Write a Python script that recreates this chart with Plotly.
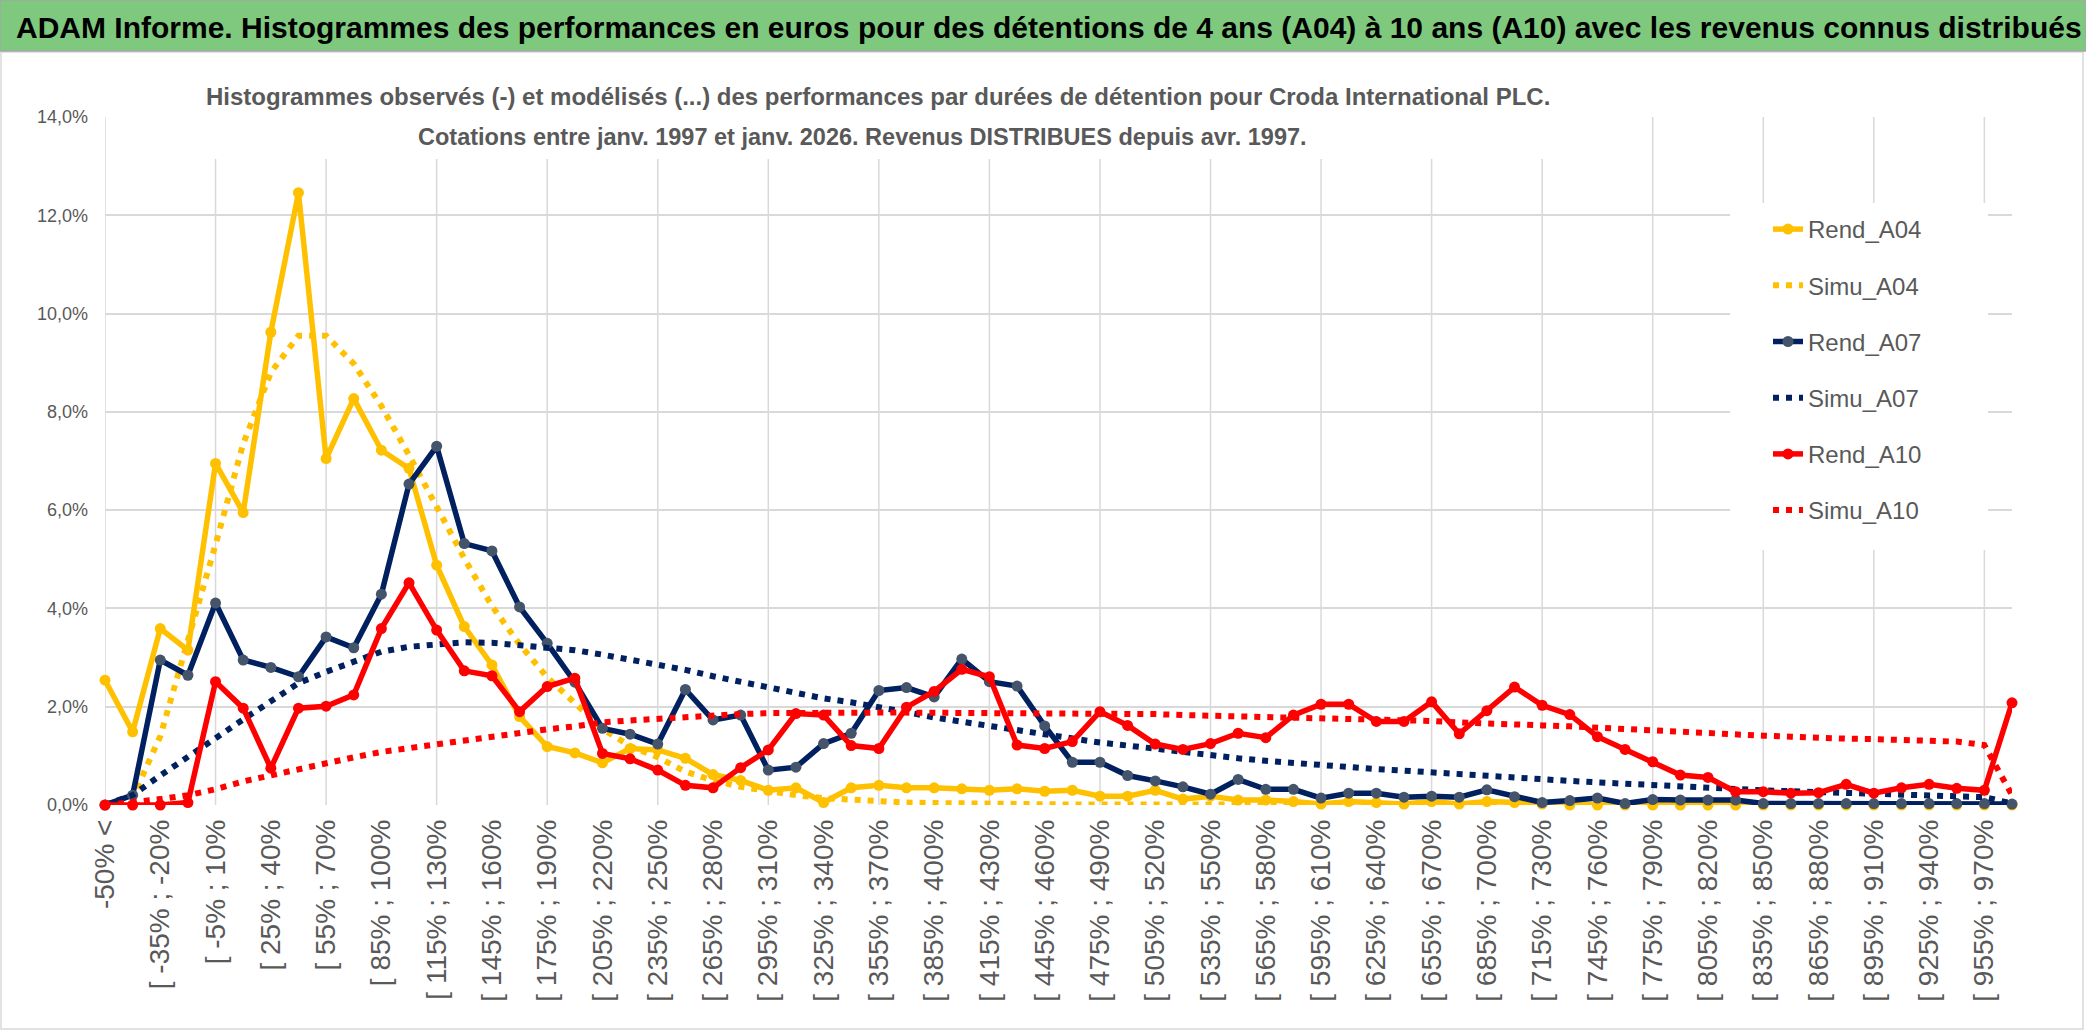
import plotly.graph_objects as go

# ---------------- data ----------------
categories = [
    "-50% <", "[ -50% ; -35%", "[ -35% ; -20%", "[ -20% ; -5%", "[ -5% ; 10%", "[ 10% ; 25%",
    "[ 25% ; 40%", "[ 40% ; 55%", "[ 55% ; 70%", "[ 70% ; 85%", "[ 85% ; 100%", "[ 100% ; 115%",
    "[ 115% ; 130%", "[ 130% ; 145%", "[ 145% ; 160%", "[ 160% ; 175%", "[ 175% ; 190%", "[ 190% ; 205%",
    "[ 205% ; 220%", "[ 220% ; 235%", "[ 235% ; 250%", "[ 250% ; 265%", "[ 265% ; 280%", "[ 280% ; 295%",
    "[ 295% ; 310%", "[ 310% ; 325%", "[ 325% ; 340%", "[ 340% ; 355%", "[ 355% ; 370%", "[ 370% ; 385%",
    "[ 385% ; 400%", "[ 400% ; 415%", "[ 415% ; 430%", "[ 430% ; 445%", "[ 445% ; 460%", "[ 460% ; 475%",
    "[ 475% ; 490%", "[ 490% ; 505%", "[ 505% ; 520%", "[ 520% ; 535%", "[ 535% ; 550%", "[ 550% ; 565%",
    "[ 565% ; 580%", "[ 580% ; 595%", "[ 595% ; 610%", "[ 610% ; 625%", "[ 625% ; 640%", "[ 640% ; 655%",
    "[ 655% ; 670%", "[ 670% ; 685%", "[ 685% ; 700%", "[ 700% ; 715%", "[ 715% ; 730%", "[ 730% ; 745%",
    "[ 745% ; 760%", "[ 760% ; 775%", "[ 775% ; 790%", "[ 790% ; 805%", "[ 805% ; 820%", "[ 820% ; 835%",
    "[ 835% ; 850%", "[ 850% ; 865%", "[ 865% ; 880%", "[ 880% ; 895%", "[ 895% ; 910%", "[ 910% ; 925%",
    "[ 925% ; 940%", "[ 940% ; 955%", "[ 955% ; 970%", "> 970%",
]

rend_a04 = [2.54, 1.49, 3.59, 3.15, 6.95, 5.95, 9.62, 12.46, 7.05, 8.27,
            7.22, 6.85, 4.88, 3.63, 2.85, 1.80, 1.19, 1.06, 0.86, 1.15,
            1.12, 0.95, 0.62, 0.50, 0.30, 0.35, 0.05, 0.35, 0.40, 0.35,
            0.35, 0.33, 0.30, 0.33, 0.28, 0.30, 0.18, 0.18, 0.30, 0.12,
            0.18, 0.10, 0.10, 0.07, 0.02, 0.07, 0.05, 0.02, 0.07, 0.02,
            0.07, 0.05, 0.02, 0.0, 0.0, 0.0, 0.0, 0.0, 0.0, 0.0,
            0.0, 0.0, 0.0, 0.0, 0.0, 0.0, 0.0, 0.0, 0.0, 0.0]

simu_a04 = [0.0, 0.15, 1.40, 3.30, 5.30, 7.35, 8.80, 9.55, 9.55, 8.98,
            8.12, 7.12, 6.05, 5.02, 4.05, 3.27, 2.60, 2.07, 1.55, 1.20,
            0.97, 0.68, 0.50, 0.37, 0.27, 0.20, 0.14, 0.10, 0.07, 0.05,
            0.04, 0.03, 0.02, 0.02, 0.01, 0.01, 0.01, 0.01, 0.01, 0.01,
            0.01, 0.0, 0.0, 0.0, 0.0, 0.0, 0.0, 0.0, 0.0, 0.0,
            0.0, 0.0, 0.0, 0.0, 0.0, 0.0, 0.0, 0.0, 0.0, 0.0,
            0.0, 0.0, 0.0, 0.0, 0.0, 0.0, 0.0, 0.0, 0.0, 0.0]

rend_a07 = [0.0, 0.20, 2.95, 2.64, 4.11, 2.95, 2.80, 2.61, 3.42, 3.20,
            4.29, 6.53, 7.30, 5.32, 5.17, 4.03, 3.29, 2.50, 1.56, 1.44,
            1.24, 2.35, 1.73, 1.83, 0.71, 0.77, 1.25, 1.46, 2.33, 2.39,
            2.20, 2.97, 2.51, 2.42, 1.61, 0.87, 0.87, 0.60, 0.49, 0.37,
            0.22, 0.52, 0.32, 0.32, 0.14, 0.24, 0.24, 0.16, 0.18, 0.16,
            0.31, 0.17, 0.05, 0.09, 0.14, 0.03, 0.11, 0.10, 0.10, 0.10,
            0.03, 0.03, 0.03, 0.03, 0.03, 0.03, 0.03, 0.03, 0.03, 0.02]

simu_a07 = [0.0, 0.20, 0.60, 0.99, 1.35, 1.74, 2.11, 2.48, 2.71, 2.92,
            3.12, 3.22, 3.28, 3.31, 3.30, 3.26, 3.20, 3.15, 3.06, 2.96,
            2.85, 2.75, 2.62, 2.50, 2.39, 2.28, 2.17, 2.09, 2.00, 1.89,
            1.78, 1.69, 1.61, 1.53, 1.44, 1.35, 1.27, 1.21, 1.14, 1.07,
            1.00, 0.95, 0.90, 0.85, 0.81, 0.77, 0.73, 0.70, 0.66, 0.63,
            0.58, 0.55, 0.52, 0.49, 0.46, 0.43, 0.40, 0.38, 0.35, 0.33,
            0.30, 0.28, 0.26, 0.25, 0.23, 0.21, 0.19, 0.18, 0.16, 0.03]

rend_a10 = [0.0, 0.0, 0.0, 0.05, 2.51, 1.97, 0.75, 1.97, 2.01, 2.24,
            3.59, 4.52, 3.56, 2.73, 2.63, 1.90, 2.41, 2.58, 1.05, 0.94,
            0.71, 0.40, 0.35, 0.76, 1.12, 1.86, 1.83, 1.21, 1.15, 1.99,
            2.31, 2.76, 2.61, 1.22, 1.15, 1.29, 1.90, 1.62, 1.24, 1.13,
            1.25, 1.46, 1.37, 1.83, 2.05, 2.05, 1.70, 1.70, 2.10, 1.45,
            1.92, 2.40, 2.03, 1.84, 1.39, 1.13, 0.88, 0.61, 0.56, 0.27,
            0.27, 0.24, 0.25, 0.42, 0.24, 0.35, 0.42, 0.34, 0.30, 2.08]

simu_a10 = [0.0, 0.05, 0.12, 0.20, 0.32, 0.48, 0.61, 0.73, 0.85, 0.97,
            1.08, 1.16, 1.24, 1.32, 1.41, 1.48, 1.54, 1.60, 1.68, 1.72,
            1.76, 1.80, 1.82, 1.85, 1.87, 1.88, 1.88, 1.88, 1.88, 1.88,
            1.88, 1.88, 1.88, 1.88, 1.88, 1.88, 1.86, 1.85, 1.85, 1.83,
            1.82, 1.81, 1.80, 1.79, 1.77, 1.76, 1.75, 1.73, 1.71, 1.68,
            1.65, 1.63, 1.62, 1.60, 1.57, 1.53, 1.51, 1.49, 1.46, 1.42,
            1.41, 1.39, 1.36, 1.35, 1.34, 1.32, 1.30, 1.29, 1.22, 0.20]

x_tick_labels = categories[::2]
x_grid_categories = categories[::4]
y_ticks = [0, 2, 4, 6, 8, 10, 12, 14]
y_tick_labels = ["0,0%", "2,0%", "4,0%", "6,0%", "8,0%", "10,0%", "12,0%", "14,0%"]

title_text = ("ADAM Informe. Histogrammes des performances en euros pour des détentions "
              "de 4 ans (A04) à 10 ans (A10) avec les revenus connus distribués")
subtitle_1 = ("Histogrammes observés (-) et modélisés (...) des performances par durées "
              "de détention pour Croda International PLC.")
subtitle_2 = "Cotations entre janv. 1997 et janv. 2026. Revenus DISTRIBUES depuis avr. 1997."

# ---------------- style ----------------
FONT = "Liberation Sans, Arial, sans-serif"
GREY = "#595959"
GRID = "#D9D9D9"
YELLOW = "#FFC000"
NAVY = "#002060"
NAVY_MK = "#44546A"
RED = "#FF0000"

W, H = 2086, 1031
L, R, T, B = 105, 74, 117, 226
PW, PH = W - L - R, H - T - B


def px_x(p):
    return (p - L) / PW


def px_y(p):
    return (H - B - p) / PH


fig = go.Figure()


def add_rend(name, y, color, mcolor):
    fig.add_trace(go.Scatter(
        x=categories, y=y, name=name, mode="lines+markers", legendgroup=name,
        line=dict(color=color, width=5.5), marker=dict(color=mcolor, size=11),
        cliponaxis=False,
    ))


def add_simu(name, y, color):
    fig.add_trace(go.Scatter(
        x=categories, y=y, name=name, mode="lines", legendgroup=name,
        line=dict(color=color, width=6, dash="6px,7px"),
        cliponaxis=False,
    ))


add_rend("Rend_A04", rend_a04, YELLOW, YELLOW)
add_simu("Simu_A04", simu_a04, YELLOW)
add_rend("Rend_A07", rend_a07, NAVY, NAVY_MK)
add_simu("Simu_A07", simu_a07, NAVY)
add_rend("Rend_A10", rend_a10, RED, RED)
add_simu("Simu_A10", simu_a10, RED)

shapes = []
for c in x_grid_categories:
    shapes.append(dict(type="line", xref="x", yref="paper", x0=c, x1=c, y0=0, y1=1,
                       line=dict(color=GRID, width=1.5), layer="below"))
# white box behind the subtitle (hides grid lines)
shapes.append(dict(type="rect", xref="paper", yref="paper",
                   x0=px_x(200), x1=px_x(1556), y0=px_y(159), y1=px_y(52),
                   fillcolor="white", line=dict(width=0), layer="above"))
# white box behind the legend
shapes.append(dict(type="rect", xref="paper", yref="paper",
                   x0=px_x(1730), x1=px_x(1988), y0=px_y(550), y1=px_y(203),
                   fillcolor="white", line=dict(width=0), layer="above"))
# outer chart border
shapes.append(dict(type="rect", xref="paper", yref="paper",
                   x0=px_x(1), x1=px_x(2083), y0=px_y(1029), y1=px_y(52),
                   fillcolor="rgba(0,0,0,0)", line=dict(color=GRID, width=1.5), layer="above"))
# green title band
shapes.append(dict(type="rect", xref="paper", yref="paper",
                   x0=px_x(0), x1=px_x(W), y0=px_y(51), y1=px_y(0),
                   fillcolor="#7FC97F", line=dict(color="#A6A6A6", width=1.5), layer="above"))

annotations = [
    dict(text="<b>" + title_text + "</b>", xref="paper", yref="paper",
         x=px_x(1049), y=px_y(27), xanchor="center", yanchor="middle", showarrow=False,
         font=dict(family=FONT, size=30, color="black")),
    dict(text="<b>" + subtitle_1 + "</b>", xref="paper", yref="paper",
         x=px_x(878), y=px_y(97), xanchor="center", yanchor="middle", showarrow=False,
         font=dict(family=FONT, size=24, color=GREY)),
    dict(text="<b>" + subtitle_2 + "</b>", xref="paper", yref="paper",
         x=px_x(862), y=px_y(137), xanchor="center", yanchor="middle", showarrow=False,
         font=dict(family=FONT, size=23.5, color=GREY)),
]

fig.update_layout(
    width=W, height=H,
    margin=dict(l=L, r=R, t=T, b=B, autoexpand=False),
    paper_bgcolor="white", plot_bgcolor="white",
    font=dict(family=FONT, color=GREY),
    shapes=shapes,
    annotations=annotations,
    showlegend=True,
    legend=dict(x=px_x(1768), y=px_y(207), xanchor="left", yanchor="top",
                font=dict(family=FONT, size=24, color=GREY),
                bgcolor="rgba(0,0,0,0)", tracegroupgap=22, traceorder="grouped"),
    xaxis=dict(type="category", categoryorder="array", categoryarray=categories,
               range=[0, len(categories) - 1], tickmode="array",
               tickvals=x_tick_labels, ticktext=x_tick_labels, tickangle=-90,
               showgrid=False, zeroline=False, showline=False, ticks="",
               tickfont=dict(family=FONT, size=28, color=GREY),
               ticklabelstandoff=8, automargin=False),
    yaxis=dict(range=[0, 14], tickmode="array", tickvals=y_ticks, ticktext=y_tick_labels,
               showgrid=True, gridcolor=GRID, gridwidth=1.5,
               zeroline=False, showline=False, ticks="",
               tickfont=dict(family=FONT, size=18, color=GREY),
               ticklabelstandoff=16, automargin=False),
)

fig.write_html("out.html", config={"displayModeBar": False},
               post_script="document.body.style.margin='0px';")
